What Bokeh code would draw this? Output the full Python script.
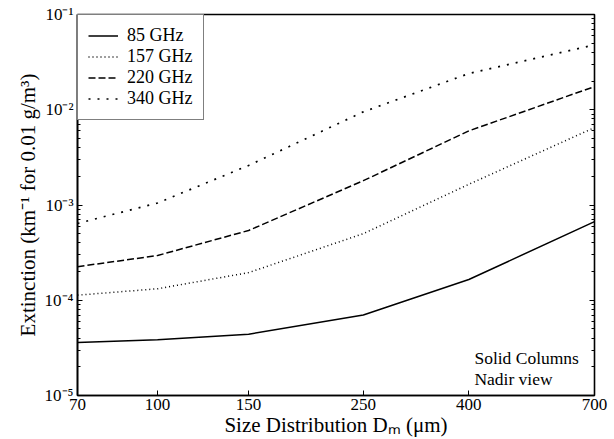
from bokeh.plotting import figure
from bokeh.models import FixedTicker, Legend, LegendItem, Label, LogAxis
from bokeh.embed import file_html
from bokeh.resources import INLINE

# Size distribution median diameter (micrometres)
dm = [70, 100, 150, 250, 400, 700]

# Extinction (km^-1 for 0.01 g/m^3) per frequency
ext_85 = [3.6e-5, 3.85e-5, 4.4e-5, 7.0e-5, 1.65e-4, 6.7e-4]
ext_157 = [1.13e-4, 1.32e-4, 1.95e-4, 5.0e-4, 1.65e-3, 6.5e-3]
ext_220 = [2.25e-4, 2.95e-4, 5.4e-4, 1.8e-3, 6.0e-3, 1.75e-2]
ext_340 = [6.4e-4, 1.05e-3, 2.6e-3, 9.5e-3, 2.4e-2, 4.8e-2]

x_ticks = [70, 100, 150, 250, 400, 700]
y_ticks = [1e-5, 1e-4, 1e-3, 1e-2, 1e-1]
y_tick_labels = ["10\u207b\u2075", "10\u207b\u2074", "10\u207b\u00b3", "10\u207b\u00b2", "10\u207b\u00b9"]

FONT = "Liberation Serif"

p = figure(width=614, height=439, x_axis_type="log", y_axis_type="log",
           x_range=(70, 700), y_range=(1e-5, 1e-1),
           output_backend="svg", toolbar_location=None,
           min_border_left=77, min_border_right=20,
           min_border_top=14, min_border_bottom=44)
p.grid.visible = False
p.background_fill_color = "white"
p.outline_line_color = "black"
p.outline_line_width = 1.6

minor_y = [k * 10.0 ** n for n in range(-5, -1) for k in range(2, 10)]

p.xaxis.ticker = FixedTicker(ticks=x_ticks)
p.xaxis.major_label_overrides = {t: str(t) for t in x_ticks}
p.yaxis.ticker = FixedTicker(ticks=y_ticks, minor_ticks=minor_y)
p.yaxis.major_label_overrides = {t: s for t, s in zip(y_ticks, y_tick_labels)}

for ax in (p.xaxis[0], p.yaxis[0]):
    ax.axis_line_color = "black"
    ax.axis_line_width = 1.6
    ax.major_tick_in = 5
    ax.major_tick_out = 0
    ax.minor_tick_in = 3
    ax.minor_tick_out = 0
    ax.major_label_text_font = FONT
    ax.major_label_text_font_size = "17px"
    ax.major_label_text_color = "black"
    ax.axis_label_text_font = FONT
    ax.axis_label_text_font_style = "normal"
    ax.axis_label_text_font_size = "21px"
    ax.axis_label_text_color = "black"

p.xaxis.major_label_standoff = 3
p.xaxis.axis_label_standoff = 0
p.yaxis.major_label_standoff = 4
p.yaxis.axis_label_standoff = 2
p.xaxis.axis_label = "Size Distribution D\u2098 (\u03bcm)"
p.yaxis.axis_label = "Extinction (km\u207b\u00b9 for 0.01 g/m\u00b3)"

# tick marks on the right side of the box, without labels
right_ax = LogAxis(ticker=FixedTicker(ticks=y_ticks, minor_ticks=minor_y),
                   axis_line_color=None, major_label_text_alpha=0,
                   major_label_text_font_size="1px",
                   major_tick_in=5, major_tick_out=0, minor_tick_in=3, minor_tick_out=0)
right_ax.major_label_overrides = {t: "" for t in y_ticks}
p.add_layout(right_ax, "right")

r85 = p.line(dm, ext_85, line_color="black", line_width=1.5)
r157 = p.line(dm, ext_157, line_color="black", line_width=1.5, line_dash="1 3")
r220 = p.line(dm, ext_220, line_color="black", line_width=1.5, line_dash="7 3")
r340 = p.line(dm, ext_340, line_color="black", line_width=1.7, line_dash="2 7")

legend = Legend(items=[
    LegendItem(label="85 GHz", renderers=[r85]),
    LegendItem(label="157 GHz", renderers=[r157]),
    LegendItem(label="220 GHz", renderers=[r220]),
    LegendItem(label="340 GHz", renderers=[r340]),
], location="top_left")
legend.margin = 0
legend.padding = 10
legend.spacing = 0
legend.glyph_width = 30
legend.glyph_height = 21
legend.label_height = 21
legend.label_standoff = 9
legend.label_text_font = FONT
legend.label_text_font_size = "18px"
legend.label_text_color = "black"
legend.border_line_color = "black"
legend.border_line_width = 1.6
legend.background_fill_alpha = 1.0
p.add_layout(legend)

for txt, yv in (("Solid Columns", 2.5e-5), ("Nadir view", 1.5e-5)):
    p.add_layout(Label(x=410, y=yv, text=txt, text_font=FONT, text_font_size="17.5px",
                       text_color="black", text_baseline="middle"))

open("out.html", "w").write(file_html(p, INLINE))
